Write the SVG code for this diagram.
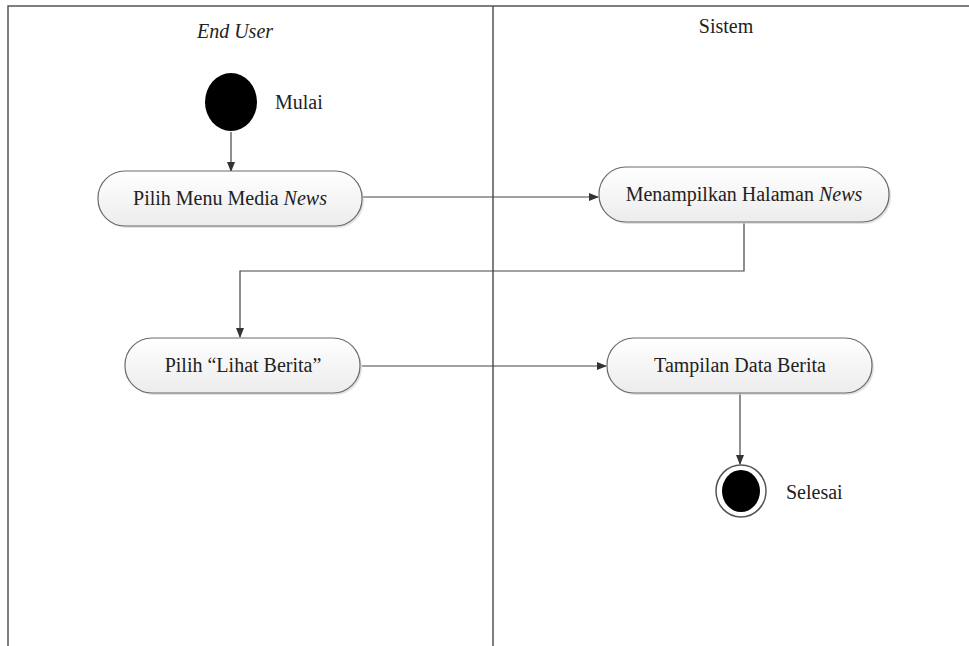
<svg xmlns="http://www.w3.org/2000/svg" width="969" height="646" viewBox="0 0 969 646">
<style>
.lane{stroke:#555;stroke-width:1.5;fill:none}
.act{fill:url(#g);stroke:#6a6a6a;stroke-width:1.2}
.shadow{fill:#cfcfcf;opacity:0.6}
.t{font-family:"Liberation Serif","Times New Roman",serif;font-size:20px;fill:#222}
.i{font-style:italic}
.c{stroke:#444;stroke-width:1.2;fill:none}
</style>
<defs>
<linearGradient id="g" x1="0" y1="0" x2="0" y2="1">
<stop offset="0" stop-color="#ffffff"/>
<stop offset="1" stop-color="#ececec"/>
</linearGradient>
<marker id="a" markerWidth="10" markerHeight="10" refX="9" refY="5" orient="auto" markerUnits="userSpaceOnUse">
<path d="M0,1 L10,5 L0,9 Z" fill="#333"/>
</marker>
</defs>
<rect width="969" height="646" fill="#fff"/>
<g id="lanes">
<path class="lane" d="M8,646 V6 H969"/>
<path class="lane" d="M493,6 V646"/>
<text class="t i" x="235" y="38" text-anchor="middle">End User</text>
<text class="t" x="726" y="33" text-anchor="middle">Sistem</text>
</g>
<g id="connectors">
<path class="c" d="M231,132 V171" marker-end="url(#a)"/>
<path class="c" d="M362,197 H598" marker-end="url(#a)"/>
<path class="c" d="M744,223 V271 H240 V337" marker-end="url(#a)"/>
<path class="c" d="M362,366 H606" marker-end="url(#a)"/>
<path class="c" d="M740,393 V464" marker-end="url(#a)"/>
</g>
<g id="start">
<ellipse cx="231" cy="102" rx="26" ry="29" fill="#000"/>
<text class="t" x="275" y="109">Mulai</text>
</g>
<g id="pilih-menu">
<rect class="shadow" x="100" y="173" width="264" height="55" rx="27"/>
<rect class="act" x="98" y="171" width="264" height="55" rx="27"/>
<text class="t" x="230" y="205" text-anchor="middle">Pilih Menu Media <tspan class="i">News</tspan></text>
</g>
<g id="menampilkan">
<rect class="shadow" x="601" y="169" width="290" height="55" rx="27"/>
<rect class="act" x="599" y="167" width="290" height="55" rx="27"/>
<text class="t" x="744" y="201" text-anchor="middle">Menampilkan Halaman <tspan class="i">News</tspan></text>
</g>
<g id="lihat-berita">
<rect class="shadow" x="127" y="340" width="235" height="55" rx="27"/>
<rect class="act" x="125" y="338" width="235" height="55" rx="27"/>
<text class="t" x="243" y="372" text-anchor="middle">Pilih “Lihat Berita”</text>
</g>
<g id="tampilan">
<rect class="shadow" x="609" y="340" width="265" height="55" rx="27"/>
<rect class="act" x="607" y="338" width="265" height="55" rx="27"/>
<text class="t" x="740" y="372" text-anchor="middle">Tampilan Data Berita</text>
</g>
<g id="end">
<ellipse cx="741" cy="491" rx="25" ry="26" fill="#fff" stroke="#555" stroke-width="1.5"/>
<ellipse cx="741" cy="491" rx="19" ry="21" fill="#000"/>
<text class="t" x="786" y="499">Selesai</text>
</g>
</svg>
